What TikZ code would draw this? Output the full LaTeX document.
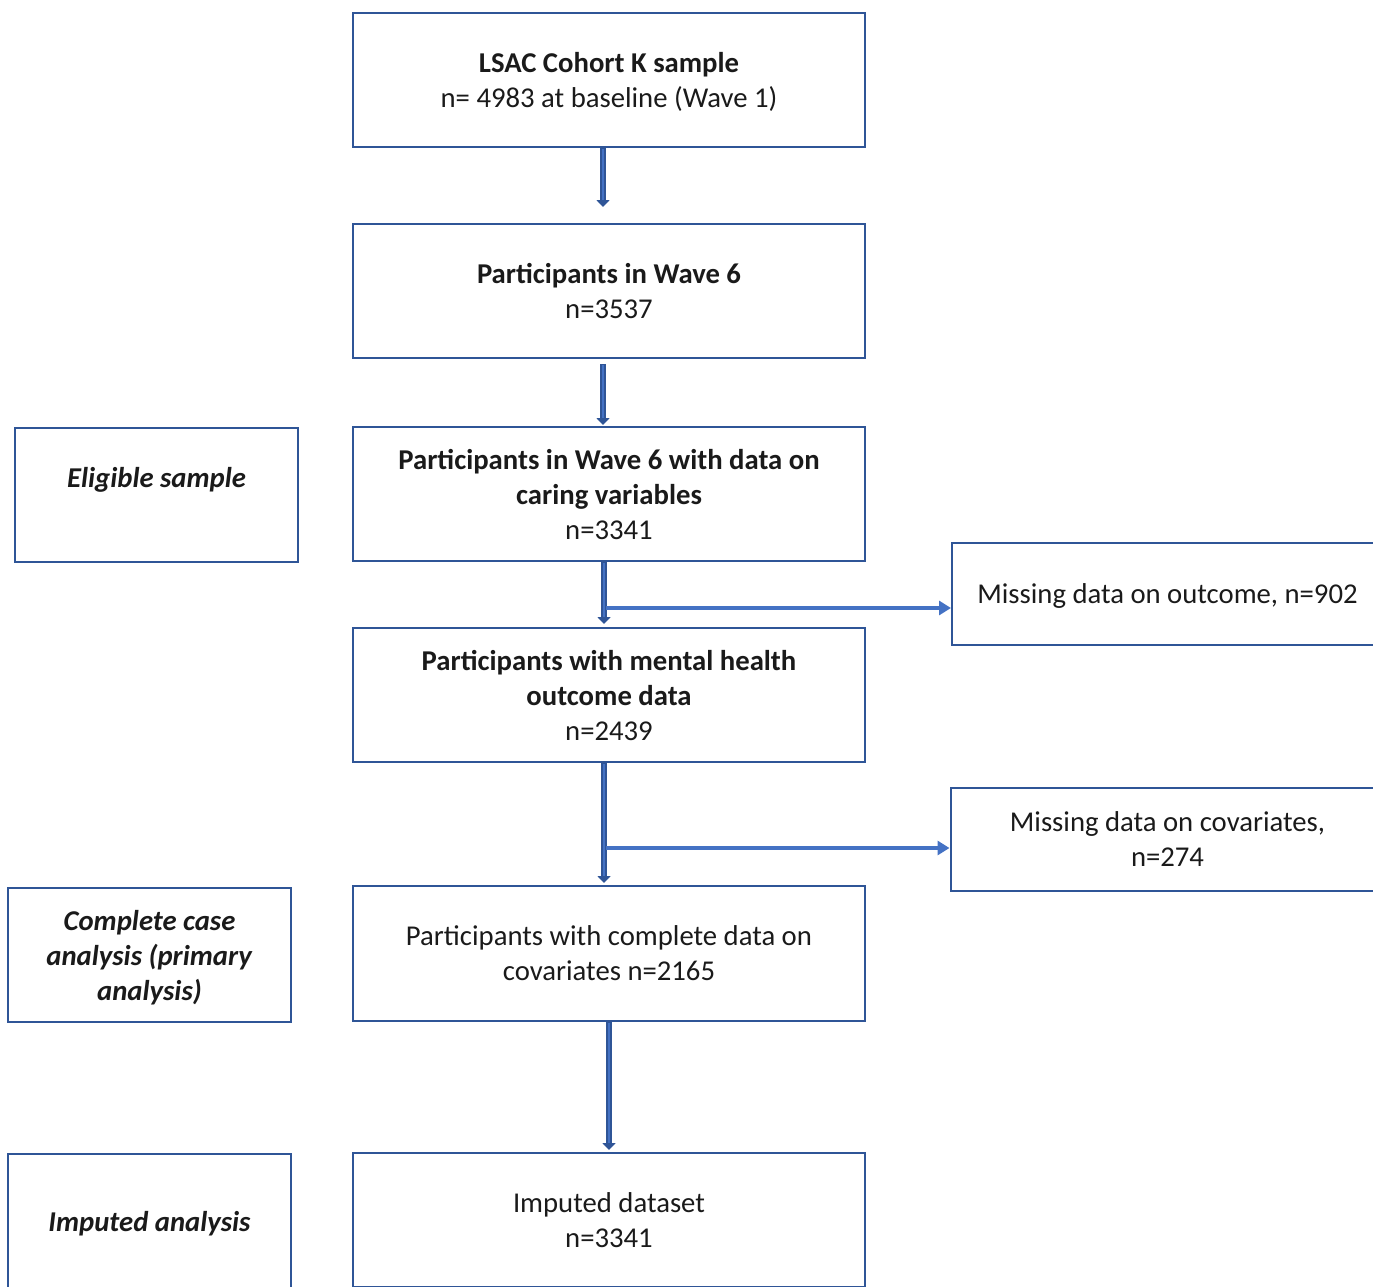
\documentclass[tikz,border=0pt]{standalone}
\usepackage{fontspec}
\setmainfont{Carlito}
\usetikzlibrary{arrows.meta,calc}
\definecolor{boxblue}{HTML}{2F5597}
\definecolor{arrblue}{HTML}{4472C4}
\definecolor{txt}{HTML}{1A1A1A}
\begin{document}
\begin{tikzpicture}[x=1pt,y=-1pt,
  box/.style={draw=boxblue, line width=2pt, align=center, text=txt,
    font=\fontsize{28.7}{35}\selectfont, inner sep=0pt, text depth=0pt},
  mainbox/.style={box, minimum width=512pt, minimum height=134pt},
  sidebox/.style={box, minimum width=283pt, minimum height=134pt},
  vshaft/.style={draw=boxblue, line width=6pt, -{Triangle[width=13pt,length=7pt]}},
  vcore/.style={draw=arrblue, line width=2.2pt},
  harrow/.style={draw=arrblue, line width=4pt, -{Triangle[width=14pt,length=12pt]}}
]
\clip (0,0) rectangle (1373,1287);
\useasboundingbox (0,0) rectangle (1373,1287);

\node[mainbox] (b1) at (609,80) {\textbf{LSAC Cohort K sample}\\n= 4983 at baseline (Wave 1)};
\node[mainbox] (b2) at (609,291) {\textbf{Participants in Wave 6}\\n=3537};
\node[mainbox] (b3) at (609,494) {\textbf{Participants in Wave 6 with data on}\\\textbf{caring variables}\\n=3341};
\node[mainbox] (b4) at (609,695) {\textbf{Participants with mental health}\\\textbf{outcome data}\\n=2439};
\node[mainbox, minimum height=135pt] (b5) at (609,953.5) {Participants with complete data on\\covariates n=2165};
\node[mainbox] (b6) at (609,1220) {Imputed dataset\\n=3341};

\node[sidebox] (s1) at (156.5,495) {\textbf{\textit{Eligible sample}}\\\mbox{}};
\node[sidebox] (s2) at (149.5,955) {\textbf{\textit{Complete case}}\\\textbf{\textit{analysis (primary}}\\\textbf{\textit{analysis)}}};
\node[sidebox] (s3) at (149.5,1221) {\textbf{\textit{Imputed analysis}}};

\node[box, minimum width=431pt, minimum height=102pt] (m1) at (1167.5,594) {Missing data on outcome, n=902};
\node[box, minimum width=434pt, minimum height=103pt] (m2) at (1167.5,839.5) {Missing data on covariates,\\n=274};

% vertical arrows
\draw[vshaft] ([xshift=-6pt]b1.south) -- ([xshift=-6pt,yshift=16pt]b2.north);
\draw[vcore] ([xshift=-6pt,yshift=-1pt]b1.south) -- ([xshift=-6pt,yshift=23pt]b2.north);
\draw[vshaft] ([xshift=-6pt,yshift=-5pt]b2.south) -- ([xshift=-6pt,yshift=1pt]b3.north);
\draw[vcore] ([xshift=-6pt,yshift=-6pt]b2.south) -- ([xshift=-6pt,yshift=8pt]b3.north);
\draw[vshaft] ([xshift=-5pt]b3.south) -- ([xshift=-5pt,yshift=3pt]b4.north);
\draw[vcore] ([xshift=-5pt,yshift=-1pt]b3.south) -- ([xshift=-5pt,yshift=10pt]b4.north);
\draw[vshaft] ([xshift=-5pt]b4.south) -- ([xshift=-5pt,yshift=2pt]b5.north);
\draw[vcore] ([xshift=-5pt,yshift=-1pt]b4.south) -- ([xshift=-5pt,yshift=9pt]b5.north);
\draw[vshaft] (b5.south) -- ([yshift=2pt]b6.north);
\draw[vcore] ([yshift=-1pt]b5.south) -- ([yshift=9pt]b6.north);

% branch arrows
\coordinate (e1) at ([yshift=-14pt]m1.west);
\coordinate (e2) at ([yshift=-8.5pt]m2.west);
\coordinate (j1) at ($(b3.south |- e1)+(-3,0)$);
\coordinate (j2) at ($(b4.south |- e2)+(-3,0)$);
\draw[harrow] (j1) -- (e1);
\draw[harrow, line width=4.6pt] (j2) -- (e2);
\end{tikzpicture}
\end{document}
